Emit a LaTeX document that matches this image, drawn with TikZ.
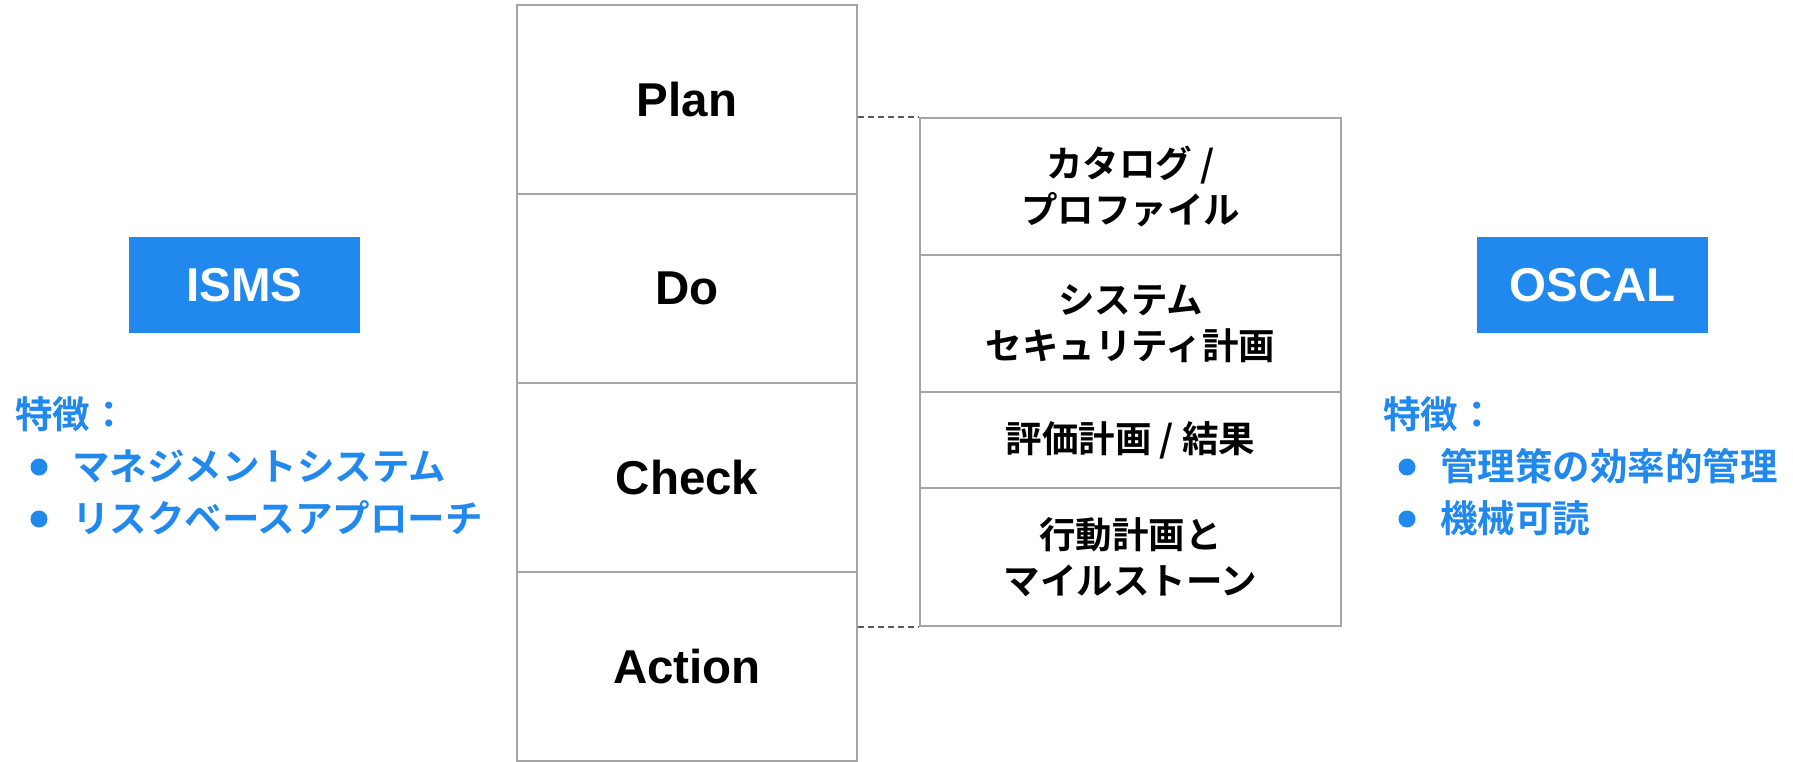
\documentclass[tikz,border=0pt]{standalone}
\usepackage{fontspec}
\setmainfont{Liberation Sans}
\newfontfamily\jp{Noto Sans CJK JP}[BoldFont={Noto Sans CJK JP Bold}]
\definecolor{mblue}{RGB}{33,137,238}
\definecolor{cellgray}{RGB}{165,165,165}
\definecolor{dashgray}{RGB}{90,90,90}
\tikzset{
  pdcacell/.style={draw=cellgray, line width=1.8pt, minimum width=340pt, minimum height=189pt, inner sep=0pt,
     font=\fontsize{47.5}{52}\selectfont\bfseries},
  oscalcell/.style={draw=cellgray, line width=1.8pt, minimum width=421pt, inner sep=0pt, align=center,
     font=\jp\fontsize{36.5}{46}\selectfont\bfseries},
  titlebox/.style={fill=mblue, text=white, minimum width=231pt, minimum height=96pt, inner sep=0pt,
     font=\fontsize{47.5}{52}\selectfont\bfseries},
  feat/.style={text=mblue, anchor=west, inner sep=0pt, font=\jp\fontsize{37.5}{44}\selectfont\bfseries},
  bul/.style={circle, fill=mblue, minimum size=17pt, inner sep=0pt},
  link/.style={draw=dashgray, line width=1.8pt, dash pattern=on 6pt off 4pt}
}
\begin{document}
\begin{tikzpicture}[x=1pt,y=-1pt]
\useasboundingbox (0,0) rectangle (1793,762);
% PDCA column
\node[pdcacell] (plan) at (687,99.5) {Plan};
\node[pdcacell] (do) at (687,288.5) {Do};
\node[pdcacell] (check) at (687,477.5) {Check};
\node[pdcacell] (action) at (687,666.5) {Action};
% OSCAL column
\node[oscalcell, minimum height=137pt] (cat) at (1130.5,186.5) {カタログ /\\プロファイル};
\node[oscalcell, minimum height=137pt] (ssp) at (1130.5,323.5) {システム\\セキュリティ計画};
\node[oscalcell, minimum height=96pt] (ap) at (1130.5,440) {評価計画 / 結果};
\node[oscalcell, minimum height=138pt] (poam) at (1130.5,557) {行動計画と\\マイルストーン};
% dashed links
\draw[link] (plan.east |- cat.north west) -- (cat.north west);
\draw[link] (action.east |- poam.south west) -- (poam.south west);
% titles
\node[titlebox] (isms) at (244.5,285) {ISMS};
\node[titlebox] (oscal) at (1592.5,285) {OSCAL};
% left features
\node[feat] (lf) at (15,414) {特徴：};
\node[bul] (lb1) at (39,467) {};
\node[bul] (lb2) at (39,519) {};
\node[feat] (lt1) at (72,466) {マネジメントシステム};
\node[feat] (lt2) at (72,518) {リスクベースアプローチ};
% right features
\node[feat] (rf) at (1383,414) {特徴：};
\node[bul] (rb1) at (1407,467) {};
\node[bul] (rb2) at (1407,519) {};
\node[feat] (rt1) at (1440,466) {管理策の効率的管理};
\node[feat] (rt2) at (1440,518) {機械可読};
\end{tikzpicture}
\end{document}
